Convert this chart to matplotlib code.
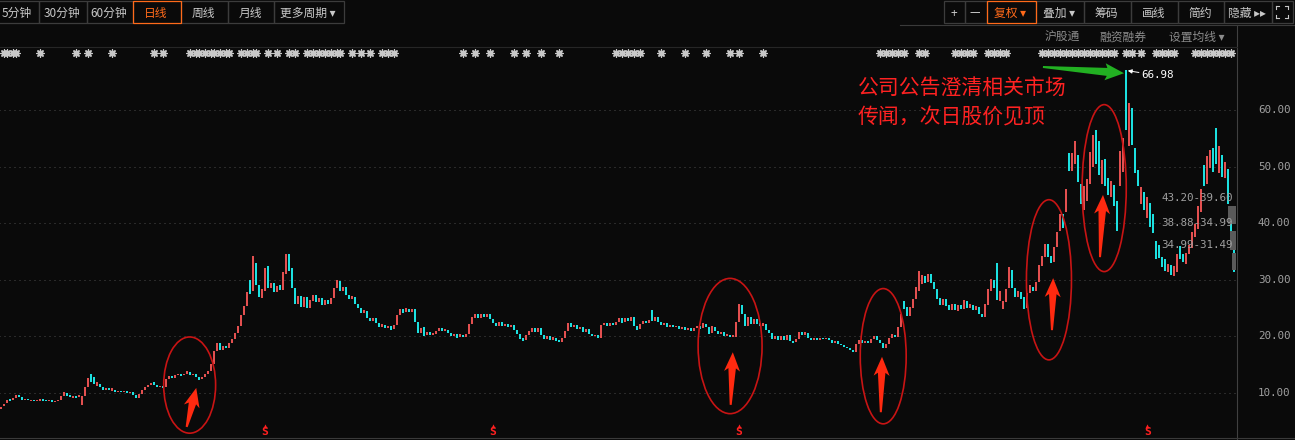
import matplotlib
matplotlib.use("Agg")
import matplotlib.pyplot as plt
from matplotlib.patches import Ellipse, Polygon, Rectangle
from matplotlib.transforms import blended_transform_factory
import numpy as np

BG = "#0a0a0a"
UP = "#f25555"
DOWN = "#1ef0f0"
GRID = "#4a4a4a"
LABEL = "#a0a0a0"
ORANGE = "#ff6a1a"
CJK = ["Noto Sans CJK SC", "DejaVu Sans"]
MONO = "DejaVu Sans Mono"

# daily candles (open / close)
opens = [
    7.2, 7.7, 8.2, 8.9, 8.7, 9.2, 9.6, 9.3, 8.7, 8.9,
    8.6, 8.8, 8.5, 8.6, 8.9, 8.7, 8.5, 8.7, 8.4, 8.6,
    8.8, 9.4, 10.0, 9.6, 9.2, 9.5, 9.3, 7.9, 9.5, 11.0,
    13.4, 12.8, 11.3, 11.6, 11.0, 10.6, 10.9, 10.4, 10.6, 10.2,
    10.3, 10.1, 10.3, 10.0, 10.1, 9.6, 9.1, 9.9, 10.6, 11.0,
    11.4, 11.9, 11.4, 11.0, 11.2, 11.0, 12.4, 13.0, 12.7, 13.1,
    13.3, 13.1, 13.4, 13.7, 13.2, 13.3, 12.8, 12.4, 12.9, 13.4,
    13.8, 15.2, 17.4, 18.9, 17.6, 18.3, 17.9, 18.8, 19.6, 20.6,
    21.8, 23.8, 25.4, 30.0, 28.0, 33.0, 29.0, 26.8, 28.0, 32.4,
    28.5, 29.5, 27.8, 29.0, 28.2, 31.0, 34.5, 32.0, 28.5, 25.8,
    27.2, 25.2, 27.0, 25.0, 26.2, 27.4, 26.0, 26.8, 25.6, 26.4,
    25.8, 26.8, 28.5, 29.8, 28.0, 28.8, 27.4, 26.6, 27.0, 25.8,
    25.0, 24.2, 24.4, 23.2, 22.8, 23.2, 22.4, 21.7, 22.1, 21.4,
    21.9, 21.3, 22.0, 23.8, 24.8, 24.3, 24.9, 24.3, 24.9, 22.6,
    20.6, 21.6, 20.2, 20.8, 20.2, 20.5, 21.0, 21.5, 20.9, 21.2,
    20.6, 20.1, 20.5, 19.9, 20.3, 19.9, 20.5, 22.2, 23.3, 23.9,
    23.2, 24.0, 23.5, 24.0, 23.0, 22.4, 21.8, 22.5, 21.8, 22.2,
    21.6, 22.0, 21.2, 20.4, 19.8, 19.3, 20.2, 20.8, 21.4, 20.8,
    21.4, 20.2, 19.6, 20.0, 19.4, 19.8, 19.3, 19.0, 19.8, 21.0,
    22.4, 21.6, 22.0, 21.3, 21.6, 20.8, 21.3, 20.5, 20.0, 20.3,
    19.8, 22.0, 22.4, 21.9, 22.3, 22.0, 22.6, 23.2, 22.5, 23.3,
    22.7, 23.4, 21.8, 21.3, 22.2, 22.8, 22.4, 24.7, 22.8, 23.4,
    22.6, 22.0, 22.3, 21.7, 22.1, 21.6, 21.9, 21.3, 21.6, 21.1,
    21.4, 21.0, 21.4, 21.9, 21.4, 22.2, 21.6, 20.6, 21.7, 21.0,
    20.4, 20.7, 20.1, 20.3, 19.9, 19.9, 22.6, 25.6, 24.0, 21.8,
    23.4, 22.2, 23.0, 22.4, 21.8, 22.2, 21.2, 20.6, 19.6, 20.0,
    19.4, 20.0, 19.3, 20.3, 19.2, 19.0, 19.6, 20.7, 20.2, 20.6,
    19.8, 19.4, 19.7, 19.4, 19.7, 19.5, 19.7, 19.3, 18.9, 19.1,
    18.7, 18.4, 18.2, 17.9, 17.6, 17.2, 18.6, 19.3, 18.8, 19.2,
    18.9, 19.6, 20.0, 19.4, 18.8, 18.0, 18.7, 19.8, 20.3, 19.9,
    21.6, 26.2, 25.2, 23.6, 25.0, 26.6, 28.0, 29.2, 30.6, 29.6,
    31.0, 29.6, 28.4, 26.8, 25.6, 26.6, 25.6, 24.6, 25.8, 24.4,
    25.6, 24.8, 26.2, 25.0, 25.6, 24.6, 25.2, 24.0, 23.4, 25.6,
    28.0, 30.0, 33.0, 26.2, 24.8, 26.0, 28.6, 31.8, 28.6, 27.0,
    27.8, 27.0, 25.0, 27.6, 28.8, 28.0, 29.6, 32.4, 34.0, 36.4,
    34.2, 33.2, 35.8, 38.6, 41.6, 42.0, 52.4, 49.2, 50.4, 52.0,
    47.0, 42.4, 44.0, 47.0, 50.0, 56.4, 54.6, 47.0, 51.4, 48.0,
    44.6, 46.8, 44.0, 46.6, 49.0, 66.98, 53.6, 60.4, 53.2, 49.4,
    43.4, 45.6, 41.0, 43.6, 41.6, 36.8, 36.2, 34.0, 33.6, 31.4,
    32.6, 30.6, 31.4, 36.0, 34.6, 32.8, 34.6, 35.6, 37.6, 39.0,
    42.0, 50.2, 47.0, 49.8, 53.2, 56.8, 48.8, 52.0, 48.0, 49.6, 42.6, 36.0,
]
closes = [
    7.6, 8.1, 8.8, 8.6, 9.2, 9.6, 9.3, 8.8, 8.9, 8.7,
    8.8, 8.5, 8.7, 8.9, 8.6, 8.5, 8.7, 8.4, 8.6, 8.8,
    9.4, 10.1, 9.5, 9.3, 9.5, 9.2, 9.6, 9.4, 11.0, 12.6,
    11.9, 11.6, 11.9, 11.0, 10.6, 10.9, 10.5, 10.9, 10.2, 10.4,
    10.1, 10.3, 10.0, 10.2, 9.6, 9.2, 9.9, 10.6, 11.0, 11.5,
    11.8, 11.4, 11.0, 11.3, 10.9, 12.4, 13.0, 12.6, 13.1, 13.3,
    13.0, 13.4, 13.8, 13.2, 13.4, 12.8, 12.3, 12.9, 13.4, 13.8,
    15.2, 17.4, 18.8, 17.6, 18.3, 17.9, 18.8, 19.6, 20.6, 21.8,
    23.8, 25.4, 27.8, 27.5, 34.2, 29.0, 27.0, 28.3, 32.0, 28.5,
    29.5, 27.8, 28.9, 28.2, 31.4, 34.5, 31.5, 28.5, 25.8, 27.2,
    25.2, 27.0, 25.0, 26.4, 27.4, 26.0, 26.8, 25.6, 26.4, 25.8,
    26.8, 28.6, 30.0, 28.0, 28.8, 27.4, 26.6, 27.2, 25.8, 25.0,
    24.2, 24.6, 23.2, 22.8, 23.3, 22.4, 21.6, 22.2, 21.4, 21.9,
    21.2, 22.0, 23.8, 24.9, 24.2, 25.0, 24.3, 24.8, 22.6, 20.6,
    21.4, 20.0, 20.8, 20.2, 20.6, 21.0, 21.5, 20.9, 21.3, 20.6,
    20.1, 20.5, 19.8, 20.4, 19.9, 20.5, 22.2, 23.4, 23.9, 23.2,
    24.0, 23.4, 24.0, 23.0, 22.4, 21.9, 22.6, 21.8, 22.2, 21.6,
    22.0, 21.2, 20.4, 19.6, 19.2, 20.2, 21.0, 21.4, 20.8, 21.4,
    20.2, 19.6, 20.0, 19.3, 19.9, 19.2, 19.0, 19.8, 21.0, 22.4,
    21.6, 22.0, 21.3, 21.7, 20.8, 21.3, 20.5, 20.0, 20.3, 19.8,
    22.0, 22.4, 21.8, 22.4, 22.0, 22.6, 23.2, 22.4, 23.3, 22.7,
    23.4, 21.8, 21.2, 22.2, 22.8, 22.4, 22.9, 22.8, 23.4, 22.6,
    22.0, 22.4, 21.7, 22.1, 21.6, 21.9, 21.3, 21.6, 21.1, 21.5,
    21.0, 21.4, 21.9, 21.3, 22.3, 21.6, 20.4, 21.8, 21.0, 20.4,
    20.8, 20.1, 20.4, 19.9, 20.2, 22.6, 25.8, 24.0, 21.8, 23.4,
    22.2, 23.0, 22.2, 21.8, 22.4, 21.2, 20.6, 19.6, 20.0, 19.4,
    20.0, 19.3, 20.3, 19.2, 18.9, 19.6, 20.8, 20.2, 20.7, 19.8,
    19.4, 19.8, 19.3, 19.7, 19.5, 19.8, 19.3, 18.9, 19.2, 18.7,
    18.4, 18.1, 17.9, 17.6, 17.2, 18.6, 19.4, 18.8, 19.2, 18.9,
    19.6, 20.1, 19.4, 18.8, 18.0, 18.7, 19.8, 20.4, 19.9, 21.6,
    24.0, 24.8, 23.6, 25.2, 26.6, 28.8, 31.6, 30.8, 29.4, 31.0,
    29.4, 28.4, 26.6, 25.6, 26.6, 25.4, 24.6, 25.8, 24.6, 25.6,
    24.8, 26.4, 25.0, 25.8, 24.6, 25.4, 24.0, 23.4, 25.8, 28.4,
    30.2, 28.6, 26.4, 28.0, 26.2, 28.4, 32.2, 28.6, 27.0, 28.0,
    26.6, 24.8, 27.6, 29.0, 28.0, 29.6, 32.6, 34.2, 36.4, 34.0,
    33.0, 35.8, 38.4, 41.6, 39.2, 46.0, 49.2, 52.4, 54.6, 47.2,
    43.4, 46.6, 47.8, 52.6, 55.6, 50.4, 48.6, 51.2, 46.6, 45.0,
    47.4, 43.0, 38.6, 52.8, 55.0, 56.4, 61.2, 53.8, 48.8, 46.6,
    46.4, 42.4, 44.6, 39.4, 38.2, 33.6, 33.8, 32.2, 31.6, 32.8,
    30.8, 32.4, 34.6, 33.6, 33.2, 34.8, 36.2, 38.4, 39.8, 43.0,
    46.0, 46.6, 51.8, 53.0, 49.0, 50.4, 53.6, 48.2, 50.8, 43.4, 38.4, 31.4,
]

y_ticks = [10, 20, 30, 40, 50, 60]

# event marks on the top row (candle index)
star_idx = [1, 2, 4, 5, 13, 25, 29, 37, 51, 54,
            63, 65, 66, 68, 70, 71, 73, 75, 76, 80, 82, 84, 85, 89, 92, 96, 98,
            102, 104, 106, 108, 110, 112, 113, 117, 120, 123, 127, 129, 131,
            154, 158, 163, 171, 175, 180, 186, 205, 207, 209, 211, 213,
            220, 228, 235, 243, 246, 254, 293, 295, 297, 299, 301, 306, 308,
            318, 320, 322, 324, 329, 331, 333, 335,
            347, 349, 351, 353, 355, 357, 359, 361, 363, 365, 367, 369, 371,
            375, 377, 380, 385, 387, 389, 391, 398, 400, 402, 404, 406, 408, 410]
# "S" signals at the bottom (candle index)
s_idx = [88, 164, 246, 382]

# chip bands on the right edge
band_hi = [43.20, 38.88, 34.99]
band_lo = [39.60, 34.99, 31.49]
band_share = [1.0, 0.75, 0.5]

# annotations (candle index, price)
ell_x = [63, 243, 294, 349.2, 367.6]
ell_y = [11.4, 18.3, 16.5, 30.0, 46.2]
ell_w = [17.3, 21.3, 15.3, 15.0, 14.7]
ell_h = [17.0, 23.9, 23.9, 28.3, 29.5]
arrow_tail = [(62.0, 4.0), (243.2, 7.9), (293.2, 6.6), (350.2, 21.1), (366.2, 34.0)]
arrow_tip = [(65.2, 10.9), (243.9, 17.2), (293.6, 16.4), (350.6, 30.3), (367.2, 45.0)]
green_tail = (347.2, 67.6)
green_tip = (374.2, 66.5)

note_lines = ["公司公告澄清相关市场", "传闻，次日股价见顶"]

W, H = 1295, 440
fig = plt.figure(figsize=(W / 100, H / 100), dpi=100, facecolor=BG)

# pixel-space layer for the toolbar and frame
ui = fig.add_axes([0, 0, 1, 1])
ui.set_xlim(0, W)
ui.set_ylim(H, 0)
ui.axis("off")

# price panel: pixel rows 25..437, columns 0..1236
ax = fig.add_axes([0, 3 / H, 1236 / W, 412 / H])
ax.set_zorder(2)
ax.set_facecolor("none")
for s in ax.spines.values():
    s.set_visible(False)
ax.set_xticks([])
ax.set_yticks([])
ax.set_xlim(-0.5 / 3, (1236 - 1.5) / 3)
ax.set_ylim(60 - 327 / 5.66, 60 + 85 / 5.66)

n = len(closes)
idx = np.arange(n)
o = np.array(opens)
c = np.array(closes)
lo = np.minimum(o, c)
hi = np.maximum(o, c)
cols = np.where(c >= o, UP, DOWN)

ax.hlines(y_ticks, -1, n + 1, colors=GRID, linestyles=(0, (1, 4)), lw=0.72, zorder=1)
ax.vlines(idx, lo, hi, colors=cols, lw=1.35, zorder=3)

price_px = blended_transform_factory(ui.transData, ax.transData)
idx_px = blended_transform_factory(ax.transData, ui.transData)

for v in y_ticks:
    ax.text(1258, v, f"{v:.2f}", transform=price_px, color=LABEL, fontsize=7.8,
            family=MONO, va="center", ha="left")

# chip bands
for h_, l_, sh in zip(band_hi, band_lo, band_share):
    ax.add_patch(Rectangle((1236 - 8 * sh, l_ + 0.2), 8 * sh, h_ - l_ - 0.4,
                           transform=price_px, fc="#5a5a5a", ec="none", zorder=4))
    ax.annotate(f"{h_:.2f}-{l_:.2f}", xy=(1233, h_), xycoords=price_px,
                xytext=(0, 5), textcoords="offset points", color=LABEL,
                fontsize=7.8, family=MONO, ha="right", va="center", zorder=6)

# top event row
ax.scatter(star_idx, [53] * len(star_idx), transform=idx_px, marker=(8, 2, 0),
           s=26, lw=1.0, color="#c8c8c8", zorder=5, clip_on=False)
ax.scatter(star_idx, [53] * len(star_idx), transform=idx_px, marker="o",
           s=9, lw=0, color="#c8c8c8", zorder=5, clip_on=False)

# S signals
for i in s_idx:
    ax.text(i, 432, "S", transform=idx_px, color="#ff2020", fontsize=8,
            family=MONO, weight="bold", ha="center", va="center")
ax.scatter(s_idx, [426] * len(s_idx), transform=idx_px, marker="^", s=9,
           lw=0, color="#ff2020")

# peak label
pk = int(np.argmax(hi))
ax.annotate(f"{hi[pk]:.2f}", xy=(pk, hi[pk]), xytext=(11, -3.6),
            textcoords="offset points", color="white", fontsize=7.8, family=MONO,
            ha="left", va="center",
            arrowprops=dict(arrowstyle="-|>", color="white", lw=0.7,
                            mutation_scale=6, shrinkA=0, shrinkB=1))


def tapered_arrow(tail, tip, color, tail_w, shaft_w, head_w, head_len, barb=3):
    t = ax.transData
    p0 = t.transform(tail)
    p1 = t.transform(tip)
    d = p1 - p0
    u = d / np.hypot(*d)
    nrm = np.array([-u[1], u[0]])
    base = p1 - u * head_len
    back = base - u * barb
    pts = [p0 + nrm * tail_w / 2, base + nrm * shaft_w / 2, back + nrm * head_w / 2,
           p1, back - nrm * head_w / 2, base - nrm * shaft_w / 2, p0 - nrm * tail_w / 2]
    ax.add_patch(Polygon(t.inverted().transform(pts), closed=True, fc=color,
                         ec="none", zorder=7))


for cx, cy, w, h in zip(ell_x, ell_y, ell_w, ell_h):
    ax.add_patch(Ellipse((cx, cy), w, h, fill=False, ec="#c81414", lw=1.2, zorder=6))
for tl, tp in zip(arrow_tail, arrow_tip):
    tapered_arrow(tl, tp, "#ff2a10", 2, 7.5, 16, 16)
tapered_arrow(green_tail, green_tip, "#22b022", 2, 8, 17, 17, barb=2)

ui.text(858, 88, note_lines[0], color="#ff2222", fontsize=15, family=CJK,
        ha="left", va="center")
ui.text(858, 117, note_lines[1], color="#ff2222", fontsize=15, family=CJK,
        ha="left", va="center")

# frame lines
ui.plot([1236.5, 1236.5], [25, H], color="#404040", lw=0.8)
ui.plot([0, W], [438.5, 438.5], color="#3a3a3a", lw=0.8)
ui.plot([0, 1236.5], [47.5, 47.5], color="#262626", lw=0.8)
ui.plot([900, W], [25.5, 25.5], color="#3a3a3a", lw=0.8)

# toolbar
left_btns = [("5分钟", -4, 38), ("30分钟", 38, 86), ("60分钟", 86, 132),
             ("日线", 132, 180), ("周线", 180, 227), ("月线", 227, 273),
             ("更多周期 ▾", 273, 343)]
right_btns = [("+", 943, 964), ("—", 964, 986), ("复权 ▾", 986, 1035),
              ("叠加 ▾", 1035, 1083), ("筹码", 1083, 1130), ("画线", 1130, 1177),
              ("简约", 1177, 1223), ("隐藏 ▸▸", 1223, 1271), ("", 1271, 1292)]
active = {"日线", "复权 ▾"}
for label, x0, x1 in left_btns + right_btns:
    on = label in active
    ui.add_patch(Rectangle((x0 + 0.5, 1.5), x1 - x0, 22, fill=False,
                           ec=ORANGE if on else "#3c3c3c", lw=0.9, zorder=3 if on else 2))
    if label:
        ui.text((x0 + x1) / 2, 13, label, color=ORANGE if on else "#c8c8c8",
                fontsize=8.5, family=CJK, ha="center", va="center")
# full-screen icon
for sx, sy in [(-1, -1), (1, -1), (-1, 1), (1, 1)]:
    cx, cy = 1281.5 + sx * 6, 12.5 + sy * 6
    ui.plot([cx, cx - sx * 3], [cy, cy], color="#c8c8c8", lw=0.8)
    ui.plot([cx, cx], [cy, cy - sy * 3], color="#c8c8c8", lw=0.8)

for label, x in [("沪股通", 1062), ("融资融券", 1123), ("设置均线 ▾", 1197)]:
    ui.text(x, 37, label, color="#8c8c8c", fontsize=8.5, family=CJK,
            ha="center", va="center")

fig.savefig("out.png", dpi=100, facecolor=BG)
